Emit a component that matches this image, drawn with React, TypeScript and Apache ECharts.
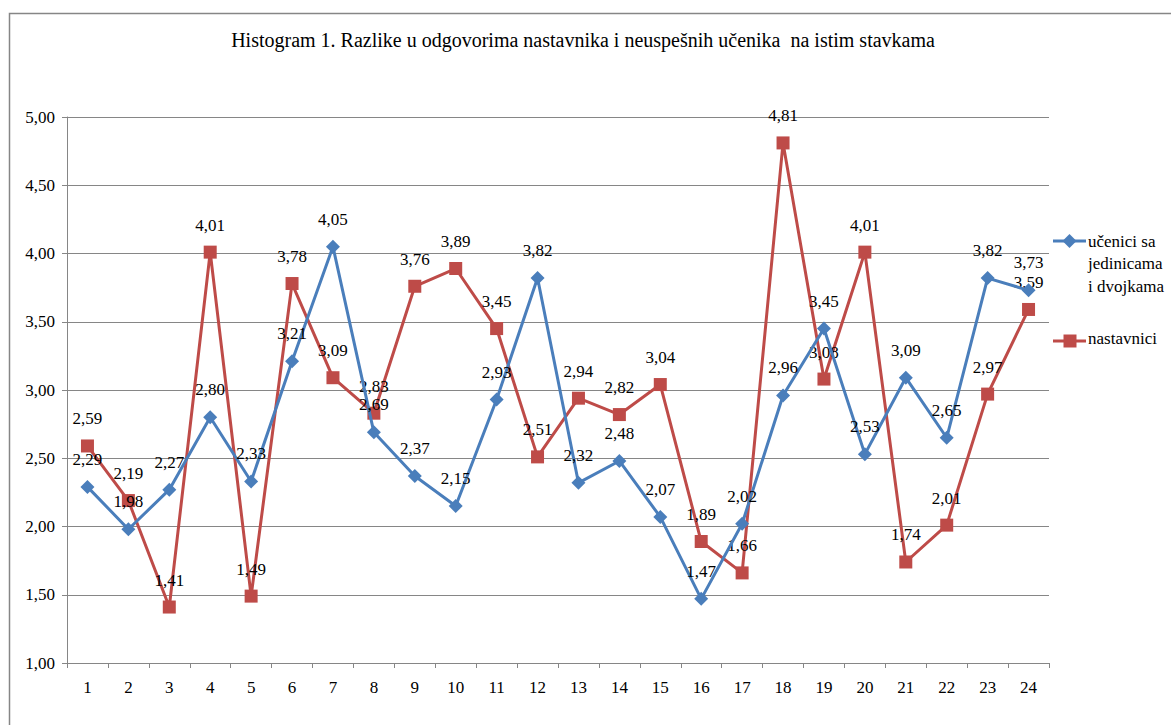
import React, { useEffect, useRef } from "react";
import * as echarts from "echarts";

const categories = ["1","2","3","4","5","6","7","8","9","10","11","12","13","14","15","16","17","18","19","20","21","22","23","24"];
const ucenici = [2.29,1.98,2.27,2.80,2.33,3.21,4.05,2.69,2.37,2.15,2.93,3.82,2.32,2.48,2.07,1.47,2.02,2.96,3.45,2.53,3.09,2.65,3.82,3.73];
const nastavnici = [2.59,2.19,1.41,4.01,1.49,3.78,3.09,2.83,3.76,3.89,3.45,2.51,2.94,2.82,3.04,1.89,1.66,4.81,3.08,4.01,1.74,2.01,2.97,3.59];
const seriesNames = ["učenici sa\njedinicama\ni dvojkama", "nastavnici"];
const titleText = "Histogram 1. Razlike u odgovorima nastavnika i neuspešnih učenika  na istim stavkama";

const BLUE = "#4A7EBB";
const RED = "#BE4B48";
const FONT = "Liberation Serif";

export default function App() {
  const ref = useRef<HTMLDivElement>(null);
  useEffect(() => {
    document.body.style.margin = "0";
    const chart = echarts.init(ref.current!, null, { renderer: "svg" });
    const fmt = (p: any) => Number(p.value).toFixed(2).replace(".", ",");
    chart.setOption({
      animation: false,
      backgroundColor: "#fff",
      textStyle: { fontFamily: FONT },
      title: {
        text: titleText,
        left: 578,
        textAlign: "center",
        top: 25,
        textStyle: { fontFamily: FONT, fontSize: 20, fontWeight: "normal", color: "#000" },
      },
      grid: { left: 67, right: 122, top: 117, bottom: 62, containLabel: false },
      xAxis: {
        type: "category",
        data: categories,
        boundaryGap: true,
        axisLine: { lineStyle: { color: "#868686", width: 1 } },
        axisTick: { show: true, length: 5, lineStyle: { color: "#868686" } },
        axisLabel: { color: "#000", fontFamily: FONT, fontSize: 17, margin: 16 },
      },
      yAxis: {
        type: "value",
        min: 1,
        max: 5,
        interval: 0.5,
        axisLine: { show: true, lineStyle: { color: "#868686" } },
        axisTick: { show: true, length: 5, lineStyle: { color: "#868686" } },
        axisLabel: {
          color: "#000",
          fontFamily: FONT,
          fontSize: 17,
          margin: 12,
          formatter: (v: number) => v.toFixed(2).replace(".", ","),
        },
        splitLine: { lineStyle: { color: "#868686", width: 1 } },
      },
      series: [
        {
          name: "učenici sa jedinicama i dvojkama",
          type: "line",
          data: ucenici,
          symbol: "diamond",
          symbolSize: 14,
          lineStyle: { color: BLUE, width: 3 },
          itemStyle: { color: BLUE },
          label: { show: true, position: "top", distance: 12, formatter: fmt, color: "#000", fontFamily: FONT, fontSize: 17 },
          z: 3,
        },
        {
          name: seriesNames[1],
          type: "line",
          data: nastavnici,
          symbol: "rect",
          symbolSize: 13,
          lineStyle: { color: RED, width: 3 },
          itemStyle: { color: RED },
          label: { show: true, position: "top", distance: 12, formatter: fmt, color: "#000", fontFamily: FONT, fontSize: 17 },
          z: 2,
        },
      ],
      graphic: [
        {
          type: "rect",
          shape: { x: 9.5, y: 13.5, width: 1300, height: 800 },
          style: { fill: "none", stroke: "#868686", lineWidth: 1.5 },
          silent: true,
        },
        { type: "line", shape: { x1: 1053, y1: 241, x2: 1086, y2: 241 }, style: { stroke: BLUE, lineWidth: 3 } },
        { type: "polygon", shape: { points: [[1069.5, 234], [1076.5, 241], [1069.5, 248], [1062.5, 241]] }, style: { fill: BLUE } },
        {
          type: "text",
          x: 1088,
          y: 230,
          style: { text: seriesNames[0], fontFamily: FONT, fontSize: 17, fill: "#000", lineHeight: 22.5 },
        },
        { type: "line", shape: { x1: 1053, y1: 341, x2: 1086, y2: 341 }, style: { stroke: RED, lineWidth: 3 } },
        { type: "rect", shape: { x: 1063.5, y: 334.5, width: 13, height: 13 }, style: { fill: RED } },
        {
          type: "text",
          x: 1088,
          y: 330,
          style: { text: seriesNames[1], fontFamily: FONT, fontSize: 17, fill: "#000" },
        },
      ],
    });
    return () => chart.dispose();
  }, []);
  return <div ref={ref} style={{ width: 1171, height: 725 }} />;
}
